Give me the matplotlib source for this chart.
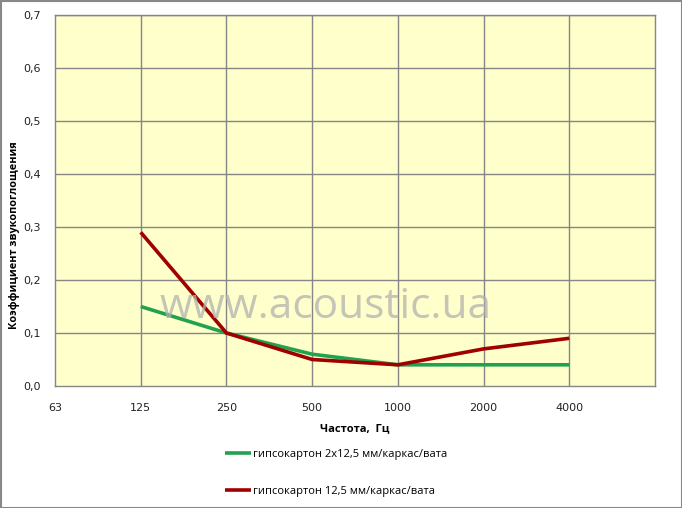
import matplotlib
matplotlib.use("Agg")
import matplotlib.pyplot as plt
from matplotlib.patches import Rectangle

categories = ["63", "125", "250", "500", "1000", "2000", "4000"]
series_names = ["гипсокартон 2x12,5 мм/каркас/вата", "гипсокартон 12,5 мм/каркас/вата"]
green_vals = [None, 0.15, 0.10, 0.06, 0.04, 0.04, 0.04]
red_vals = [None, 0.29, 0.10, 0.05, 0.04, 0.07, 0.09]
yticks = [0.0, 0.1, 0.2, 0.3, 0.4, 0.5, 0.6, 0.7]

fig = plt.figure(figsize=(6.82, 5.08), dpi=100)
fig.patch.set_facecolor("white")
ax = fig.add_axes([55/682, 1-386/508, 600/682, 371/508])
ax.set_facecolor("#FFFFCC")

grid_c = "#868686"
for y in yticks[1:]:
    ax.axhline(y, color=grid_c, lw=1, zorder=1)
for i in range(1, len(categories)):
    ax.axvline(i, color=grid_c, lw=1, zorder=1)
for s in ax.spines.values():
    s.set_color(grid_c)
    s.set_linewidth(1)

def pts(vals):
    xs = [i for i, v in enumerate(vals) if v is not None]
    ys = [v for v in vals if v is not None]
    return xs, ys

gx, gy = pts(green_vals)
rx, ry = pts(red_vals)
lg, = ax.plot(gx, gy, color="#22A24E", lw=2.6, zorder=3, solid_capstyle="butt")
lr, = ax.plot(rx, ry, color="#A00000", lw=2.6, zorder=4, solid_capstyle="butt")

ax.text(3.16, 0.150, "www.acoustic.ua", fontsize=30.5, color="#b0b0b0", alpha=0.75,
        ha="center", va="center", family="Open Sans", zorder=5)

ax.set_xlim(0, 7)
ax.set_ylim(0, 0.7)
ax.set_xticks(range(len(categories)))
ax.set_xticklabels(categories)
ax.set_yticks(yticks)
ax.set_yticklabels([f"{v:.1f}".replace(".", ",") for v in yticks])
ax.tick_params(length=0, labelsize=8, colors="#222222")
ax.tick_params(axis="x", pad=12)
ax.tick_params(axis="y", pad=10)

ax.set_xlabel("Частота,  Гц", fontsize=8, fontweight="bold", family="Open Sans")
ax.xaxis.set_label_coords((355-55)/600, -(423-386)/371)
ax.set_ylabel("Коэффициент звукопоглощения", fontsize=7.8, fontweight="bold", family="Open Sans")
ax.yaxis.set_label_coords((20-55)/600, (386-235)/371)

leg = fig.legend([lg, lr], series_names, loc="upper left", bbox_to_anchor=(215/682, 1-439/508),
                 frameon=False, handlelength=2.3, handletextpad=0.2,
                 labelspacing=2.35, prop={"family": "Open Sans", "size": 8})

fig.add_artist(Rectangle((0.5/682, 0.5/508), 1-1/682, 1-1/508, transform=fig.transFigure,
                         fill=False, edgecolor="#888888", lw=1.5))

fig.savefig("out.png", dpi=100)
